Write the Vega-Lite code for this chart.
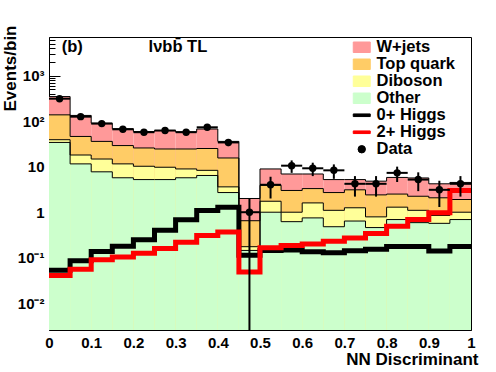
{
  "$schema": "https://vega.github.io/schema/vega-lite/v6.json",
  "width": 422,
  "height": 293,
  "autosize": {"type": "none"},
  "padding": {"left": 49, "top": 37, "right": 25, "bottom": 42},
  "background": "white",
  "config": {
    "view": {"stroke": "black", "strokeWidth": 1},
    "font": "Liberation Sans",
    "axis": {"labelFont": "Liberation Sans", "labelFontWeight": "bold", "labelColor": "black", "titleFont": "Liberation Sans", "titleFontWeight": "bold", "titleColor": "black", "tickColor": "black", "grid": false, "domain": false}
  },
  "datasets": {
    "stack": [
      {"lo":0,"hi":0.05,"comp":"W+jets","cum":345},{"lo":0.05,"hi":0.1,"comp":"W+jets","cum":133},{"lo":0.1,"hi":0.15,"comp":"W+jets","cum":90},{"lo":0.15,"hi":0.2,"comp":"W+jets","cum":68},{"lo":0.2,"hi":0.25,"comp":"W+jets","cum":59},{"lo":0.25,"hi":0.3,"comp":"W+jets","cum":62},{"lo":0.3,"hi":0.35,"comp":"W+jets","cum":58},{"lo":0.35,"hi":0.4,"comp":"W+jets","cum":67},{"lo":0.4,"hi":0.45,"comp":"W+jets","cum":35.8},{"lo":0.45,"hi":0.5,"comp":"W+jets","cum":2.0},{"lo":0.5,"hi":0.55,"comp":"W+jets","cum":8.9},{"lo":0.55,"hi":0.6,"comp":"W+jets","cum":6.9},{"lo":0.6,"hi":0.65,"comp":"W+jets","cum":6.9},{"lo":0.65,"hi":0.7,"comp":"W+jets","cum":5.2},{"lo":0.7,"hi":0.75,"comp":"W+jets","cum":5.2},{"lo":0.75,"hi":0.8,"comp":"W+jets","cum":4.8},{"lo":0.8,"hi":0.85,"comp":"W+jets","cum":5.8},{"lo":0.85,"hi":0.9,"comp":"W+jets","cum":5.65},{"lo":0.9,"hi":0.95,"comp":"W+jets","cum":4.2},{"lo":0.95,"hi":1,"comp":"W+jets","cum":4.5},{"lo":1,"comp":"W+jets","cum":4.5},
      {"lo":0,"hi":0.05,"comp":"Top quark","cum":137},{"lo":0.05,"hi":0.1,"comp":"Top quark","cum":46},{"lo":0.1,"hi":0.15,"comp":"Top quark","cum":35.8},{"lo":0.15,"hi":0.2,"comp":"Top quark","cum":29},{"lo":0.2,"hi":0.25,"comp":"Top quark","cum":25.7},{"lo":0.25,"hi":0.3,"comp":"Top quark","cum":24.4},{"lo":0.3,"hi":0.35,"comp":"Top quark","cum":24.4},{"lo":0.35,"hi":0.4,"comp":"Top quark","cum":25},{"lo":0.4,"hi":0.45,"comp":"Top quark","cum":15.5},{"lo":0.45,"hi":0.5,"comp":"Top quark","cum":0.65},{"lo":0.5,"hi":0.55,"comp":"Top quark","cum":3.9},{"lo":0.55,"hi":0.6,"comp":"Top quark","cum":3.0},{"lo":0.6,"hi":0.65,"comp":"Top quark","cum":3.3},{"lo":0.65,"hi":0.7,"comp":"Top quark","cum":2.7},{"lo":0.7,"hi":0.75,"comp":"Top quark","cum":3.1},{"lo":0.75,"hi":0.8,"comp":"Top quark","cum":2.4},{"lo":0.8,"hi":0.85,"comp":"Top quark","cum":2.5},{"lo":0.85,"hi":0.9,"comp":"Top quark","cum":2.24},{"lo":0.9,"hi":0.95,"comp":"Top quark","cum":2.07},{"lo":0.95,"hi":1,"comp":"Top quark","cum":1.9},{"lo":1,"comp":"Top quark","cum":1.9},
      {"lo":0,"hi":0.05,"comp":"Diboson","cum":39},{"lo":0.05,"hi":0.1,"comp":"Diboson","cum":18},{"lo":0.1,"hi":0.15,"comp":"Diboson","cum":14.7},{"lo":0.15,"hi":0.2,"comp":"Diboson","cum":11.5},{"lo":0.2,"hi":0.25,"comp":"Diboson","cum":10.2},{"lo":0.25,"hi":0.3,"comp":"Diboson","cum":9.7},{"lo":0.3,"hi":0.35,"comp":"Diboson","cum":8.9},{"lo":0.35,"hi":0.4,"comp":"Diboson","cum":8.3},{"lo":0.4,"hi":0.45,"comp":"Diboson","cum":3.6},{"lo":0.45,"hi":0.5,"comp":"Diboson","cum":0.175},{"lo":0.5,"hi":0.55,"comp":"Diboson","cum":1.74},{"lo":0.55,"hi":0.6,"comp":"Diboson","cum":1.0},{"lo":0.6,"hi":0.65,"comp":"Diboson","cum":1.6},{"lo":0.65,"hi":0.7,"comp":"Diboson","cum":1.1},{"lo":0.7,"hi":0.75,"comp":"Diboson","cum":1.25},{"lo":0.75,"hi":0.8,"comp":"Diboson","cum":0.79},{"lo":0.8,"hi":0.85,"comp":"Diboson","cum":1.29},{"lo":0.85,"hi":0.9,"comp":"Diboson","cum":1.1},{"lo":0.9,"hi":0.95,"comp":"Diboson","cum":0.85},{"lo":0.95,"hi":1,"comp":"Diboson","cum":1.0},{"lo":1,"comp":"Diboson","cum":1.0},
      {"lo":0,"hi":0.05,"comp":"Other","cum":34},{"lo":0.05,"hi":0.1,"comp":"Other","cum":11.5},{"lo":0.1,"hi":0.15,"comp":"Other","cum":7.7},{"lo":0.15,"hi":0.2,"comp":"Other","cum":5.7},{"lo":0.2,"hi":0.25,"comp":"Other","cum":5.2},{"lo":0.25,"hi":0.3,"comp":"Other","cum":5.2},{"lo":0.3,"hi":0.35,"comp":"Other","cum":5.7},{"lo":0.35,"hi":0.4,"comp":"Other","cum":6.4},{"lo":0.4,"hi":0.45,"comp":"Other","cum":2.7},{"lo":0.45,"hi":0.5,"comp":"Other","cum":0.145},{"lo":0.5,"hi":0.55,"comp":"Other","cum":1.0},{"lo":0.55,"hi":0.6,"comp":"Other","cum":0.62},{"lo":0.6,"hi":0.65,"comp":"Other","cum":0.75},{"lo":0.65,"hi":0.7,"comp":"Other","cum":0.48},{"lo":0.7,"hi":0.75,"comp":"Other","cum":0.64},{"lo":0.75,"hi":0.8,"comp":"Other","cum":0.46},{"lo":0.8,"hi":0.85,"comp":"Other","cum":0.69},{"lo":0.85,"hi":0.9,"comp":"Other","cum":0.59},{"lo":0.9,"hi":0.95,"comp":"Other","cum":0.57},{"lo":0.95,"hi":1,"comp":"Other","cum":0.69},{"lo":1,"comp":"Other","cum":0.69}
    ],
    "sig": [
      {"x":0,"name":"0+ Higgs","v":0.053},{"x":0.05,"name":"0+ Higgs","v":0.086},{"x":0.1,"name":"0+ Higgs","v":0.138},{"x":0.15,"name":"0+ Higgs","v":0.18},{"x":0.2,"name":"0+ Higgs","v":0.25},{"x":0.25,"name":"0+ Higgs","v":0.40},{"x":0.3,"name":"0+ Higgs","v":0.68},{"x":0.35,"name":"0+ Higgs","v":1.09},{"x":0.4,"name":"0+ Higgs","v":1.29},{"x":0.45,"name":"0+ Higgs","v":0.113},{"x":0.5,"name":"0+ Higgs","v":0.145},{"x":0.55,"name":"0+ Higgs","v":0.148},{"x":0.6,"name":"0+ Higgs","v":0.136},{"x":0.65,"name":"0+ Higgs","v":0.129},{"x":0.7,"name":"0+ Higgs","v":0.143},{"x":0.75,"name":"0+ Higgs","v":0.153},{"x":0.8,"name":"0+ Higgs","v":0.177},{"x":0.85,"name":"0+ Higgs","v":0.177},{"x":0.9,"name":"0+ Higgs","v":0.14},{"x":0.95,"name":"0+ Higgs","v":0.177},{"x":1,"name":"0+ Higgs","v":0.177},
      {"x":0,"name":"2+ Higgs","v":0.041},{"x":0.05,"name":"2+ Higgs","v":0.056},{"x":0.1,"name":"2+ Higgs","v":0.091},{"x":0.15,"name":"2+ Higgs","v":0.104},{"x":0.2,"name":"2+ Higgs","v":0.125},{"x":0.25,"name":"2+ Higgs","v":0.16},{"x":0.3,"name":"2+ Higgs","v":0.22},{"x":0.35,"name":"2+ Higgs","v":0.31},{"x":0.4,"name":"2+ Higgs","v":0.37},{"x":0.45,"name":"2+ Higgs","v":0.049},{"x":0.5,"name":"2+ Higgs","v":0.166},{"x":0.55,"name":"2+ Higgs","v":0.187},{"x":0.6,"name":"2+ Higgs","v":0.2},{"x":0.65,"name":"2+ Higgs","v":0.23},{"x":0.7,"name":"2+ Higgs","v":0.27},{"x":0.75,"name":"2+ Higgs","v":0.34},{"x":0.8,"name":"2+ Higgs","v":0.49},{"x":0.85,"name":"2+ Higgs","v":0.69},{"x":0.9,"name":"2+ Higgs","v":0.97},{"x":0.95,"name":"2+ Higgs","v":3.0},{"x":1,"name":"2+ Higgs","v":3.0}
    ],
    "pts": [
      {"lo":0,"hi":0.05,"mid":0.025,"n":310,"elo":292,"ehi":328},{"lo":0.05,"hi":0.1,"mid":0.075,"n":125,"elo":114,"ehi":136},{"lo":0.1,"hi":0.15,"mid":0.125,"n":88,"elo":78.6,"ehi":97.4},{"lo":0.15,"hi":0.2,"mid":0.175,"n":66,"elo":57.9,"ehi":74.1},{"lo":0.2,"hi":0.25,"mid":0.225,"n":57,"elo":49.5,"ehi":64.5},{"lo":0.25,"hi":0.3,"mid":0.275,"n":62,"elo":54.1,"ehi":69.9},{"lo":0.3,"hi":0.35,"mid":0.325,"n":57,"elo":49.5,"ehi":64.5},{"lo":0.35,"hi":0.4,"mid":0.375,"n":73,"elo":64.5,"ehi":81.5},{"lo":0.4,"hi":0.45,"mid":0.425,"n":34,"elo":28.2,"ehi":39.8},{"lo":0.45,"hi":0.5,"mid":0.475,"n":1,"elo":0.0001,"ehi":2},
      {"lo":0.5,"hi":0.55,"mid":0.525,"n":4,"elo":2,"ehi":6},{"lo":0.55,"hi":0.6,"mid":0.575,"n":10.5,"elo":7.3,"ehi":13.7},{"lo":0.6,"hi":0.65,"mid":0.625,"n":9.2,"elo":6.2,"ehi":12.2},{"lo":0.65,"hi":0.7,"mid":0.675,"n":8.3,"elo":5.4,"ehi":11.2},{"lo":0.7,"hi":0.75,"mid":0.725,"n":4.2,"elo":2.2,"ehi":6.2},{"lo":0.75,"hi":0.8,"mid":0.775,"n":4.2,"elo":2.2,"ehi":6.2},{"lo":0.8,"hi":0.85,"mid":0.825,"n":7.3,"elo":4.6,"ehi":10},{"lo":0.85,"hi":0.9,"mid":0.875,"n":5.2,"elo":2.9,"ehi":7.5},{"lo":0.9,"hi":0.95,"mid":0.925,"n":3.1,"elo":1.3,"ehi":4.9},{"lo":0.95,"hi":1,"mid":0.975,"n":4.2,"elo":2.2,"ehi":6.2}
    ],
    "notes": [
      {"t":"(b)","x":0.03,"y":4300},
      {"t":"lνbb̄ TL","x":0.236,"y":4300}
    ]
  },
  "resolve": {"axis": {"x": "independent", "y": "independent"}},
  "layer": [
    {
      "data": {"name": "stack"},
      "transform": [{"filter": "datum.lo < 1"}],
      "mark": {"type": "bar", "clip": true, "strokeWidth": 0},
      "encoding": {
        "x": {"field": "lo", "type": "quantitative", "scale": {"domain": [0, 1], "nice": false, "zero": false},
              "axis": {"orient": "bottom", "values": [0,0.1,0.2,0.3,0.4,0.5,0.6,0.7,0.8,0.9,1], "labelExpr": "datum.value == 0 ? '0' : datum.value == 1 ? '1' : format(datum.value, '.1f')", "tickSize": -10, "labelPadding": 15, "labelFontSize": 15, "labelFlush": false, "title": "NN Discriminant", "titleFontSize": 17, "titleAlign": "right", "titleBaseline": "alphabetic", "titleX": 429, "titleY": 34}},
        "x2": {"field": "hi"},
        "y": {"field": "cum", "type": "quantitative", "stack": null, "scale": {"type": "log", "domain": [0.0026, 7000], "nice": false},
              "axis": {"orient": "left", "values": [0.01,0.1,1,10,100,1000], "labelExpr": "datum.value == 0.01 ? '10⁻²' : datum.value == 0.1 ? '10⁻¹' : datum.value == 1 ? '1' : datum.value == 10 ? '10' : datum.value == 100 ? '10²' : '10³'", "tickSize": -11, "labelPadding": 16, "labelFontSize": 15, "labelFlush": false, "title": "Events/bin", "titleFontSize": 17, "titleAngle": -90, "titleAlign": "right", "titleBaseline": "alphabetic", "titleX": -34, "titleY": -12}},
        "y2": {"value": "height"},
        "color": {"field": "comp", "type": "nominal",
                  "scale": {"domain": ["W+jets","Top quark","Diboson","Other","0+ Higgs","2+ Higgs","Data"], "range": ["#ff9999","#ffcc66","#ffff99","#ccffcc","#000000","#ff0000","#000000"]},
                  "legend": {"title": null, "orient": "none", "legendX": 304.5, "legendY": 2, "padding": 0, "rowPadding": -1.3, "labelFont": "Liberation Sans", "labelFontWeight": "bold", "labelFontSize": 16.5, "labelColor": "black", "labelOffset": 6.5, "symbolSize": 100, "labelLimit": 300,
                    "encode": {"symbols": {"update": {
                      "shape": {"signal": "(datum.value === '0+ Higgs' || datum.value === '2+ Higgs') ? 'M-1.7,-0.26H1.7V0.26H-1.7Z' : datum.value === 'Data' ? 'circle' : 'M-1.7,-1.05H1.7V1.05H-1.7Z'"},
                      "fill": {"signal": "scale('color', datum.value)"},
                      "stroke": {"signal": "(datum.value === '0+ Higgs' || datum.value === '2+ Higgs' || datum.value === 'Data') ? 'transparent' : 'black'"},
                      "strokeWidth": {"value": 1},
                      "size": {"signal": "datum.value === 'Data' ? 55 : 100"},
                      "opacity": {"value": 1},
                      "fillOpacity": {"value": 1}
                    }}}}}
      }
    },
    {
      "data": {"name": "stack"},
      "mark": {"type": "line", "interpolate": "step-after", "color": "black", "strokeWidth": 1, "clip": true},
      "encoding": {
        "x": {"field": "lo", "type": "quantitative", "scale": {"domain": [0, 1], "nice": false, "zero": false},
              "axis": {"orient": "bottom", "values": [0.02,0.04,0.06,0.08,0.12,0.14,0.16,0.18,0.22,0.24,0.26,0.28,0.32,0.34,0.36,0.38,0.42,0.44,0.46,0.48,0.52,0.54,0.56,0.58,0.62,0.64,0.66,0.68,0.72,0.74,0.76,0.78,0.82,0.84,0.86,0.88,0.92,0.94,0.96,0.98], "tickSize": -5, "labels": false, "title": null}},
        "y": {"field": "cum", "type": "quantitative", "scale": {"type": "log", "domain": [0.0026, 7000], "nice": false},
              "axis": {"orient": "left", "values": [0.003,0.004,0.005,0.006,0.007,0.008,0.009,0.02,0.03,0.04,0.05,0.06,0.07,0.08,0.09,0.2,0.3,0.4,0.5,0.6,0.7,0.8,0.9,2,3,4,5,6,7,8,9,20,30,40,50,60,70,80,90,200,300,400,500,600,700,800,900,2000,3000,4000,5000,6000,7000], "tickSize": -6, "labels": false, "title": null}},
        "detail": {"field": "comp"}
      }
    },
    {
      "data": {"name": "sig"},
      "mark": {"type": "line", "interpolate": "step-after", "strokeWidth": 5, "strokeCap": "butt", "strokeJoin": "miter", "clip": true},
      "encoding": {
        "x": {"field": "x", "type": "quantitative", "scale": {"domain": [0, 1], "nice": false, "zero": false}, "axis": null},
        "y": {"field": "v", "type": "quantitative", "scale": {"type": "log", "domain": [0.0026, 7000], "nice": false}, "axis": null},
        "color": {"field": "name", "type": "nominal"}
      }
    },
    {
      "data": {"name": "pts"},
      "mark": {"type": "rule", "color": "black", "strokeWidth": 2, "clip": true},
      "encoding": {
        "x": {"field": "mid", "type": "quantitative", "scale": {"domain": [0, 1], "nice": false, "zero": false}, "axis": null},
        "y": {"field": "elo", "type": "quantitative", "scale": {"type": "log", "domain": [0.0026, 7000], "nice": false}, "axis": null},
        "y2": {"field": "ehi"}
      }
    },
    {
      "data": {"name": "pts"},
      "mark": {"type": "rule", "color": "black", "strokeWidth": 2, "clip": true},
      "encoding": {
        "x": {"field": "lo", "type": "quantitative", "scale": {"domain": [0, 1], "nice": false, "zero": false}, "axis": null},
        "x2": {"field": "hi"},
        "y": {"field": "n", "type": "quantitative", "scale": {"type": "log", "domain": [0.0026, 7000], "nice": false}, "axis": null}
      }
    },
    {
      "data": {"name": "pts"},
      "mark": {"type": "point", "filled": true, "size": 55, "opacity": 1, "shape": "circle"},
      "encoding": {
        "x": {"field": "mid", "type": "quantitative", "scale": {"domain": [0, 1], "nice": false, "zero": false}, "axis": null},
        "y": {"field": "n", "type": "quantitative", "scale": {"type": "log", "domain": [0.0026, 7000], "nice": false}, "axis": null},
        "color": {"datum": "Data", "type": "nominal"}
      }
    },
    {
      "data": {"name": "notes"},
      "mark": {"type": "text", "align": "left", "baseline": "middle", "font": "Liberation Sans", "fontWeight": "bold", "fontSize": 16.5, "color": "black"},
      "encoding": {
        "x": {"field": "x", "type": "quantitative", "scale": {"domain": [0, 1], "nice": false, "zero": false}, "axis": null},
        "y": {"field": "y", "type": "quantitative", "scale": {"type": "log", "domain": [0.0026, 7000], "nice": false}, "axis": null},
        "text": {"field": "t"}
      }
    }
  ]
}
